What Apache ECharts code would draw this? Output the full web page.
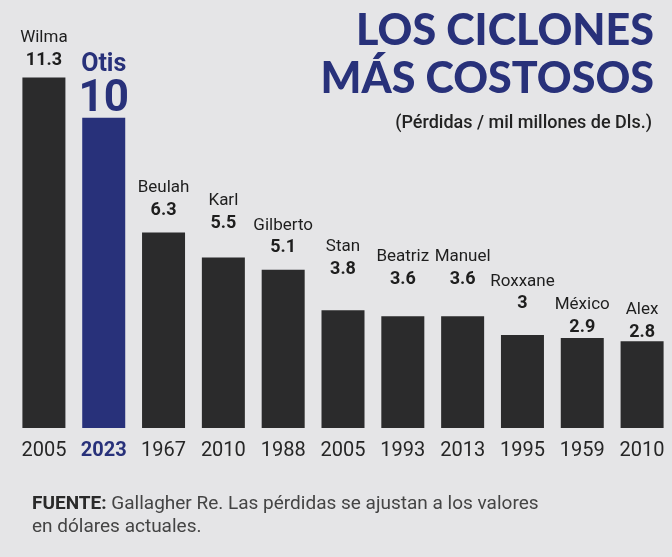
<!DOCTYPE html>
<html><head><meta charset="utf-8">
<script src="https://cdn.jsdelivr.net/npm/echarts@6/dist/echarts.min.js"></script>
<style>html,body{margin:0;padding:0;background:#e5e5e7;}#c{width:672px;height:557px;}</style>
</head><body><div id="c"></div>
<script>
const names = ['Wilma','Otis','Beulah','Karl','Gilberto','Stan','Beatriz','Manuel','Roxxane','México','Alex'];
const years = ['2005','2023','1967','2010','1988','2005','1993','2013','1995','1959','2010'];
const losses = [11.3,10,6.3,5.5,5.1,3.8,3.6,3.6,3,2.9,2.8];
const highlight = 'Otis';
// label gap above each bar (layout, not data)
const labelGap = [6,1,11,23,11,30,26,26,20,0,-2];

const FONT = 'Roboto, sans-serif';
const DARK = '#2b2b2c', NAVY = '#28317a';
const chart = echarts.init(document.getElementById('c'));
const data = losses.map((v,i)=>({
  value: v,
  itemStyle: {color: names[i]===highlight ? NAVY : DARK},
  label: {distance: labelGap[i]}
}));
chart.setOption({
  backgroundColor: '#e5e5e7',
  animation: false,
  grid: {left: 14, width: 659, top: 0, bottom: 129, containLabel: false},
  xAxis: {
    type: 'category', data: years,
    axisLine: {show: false}, axisTick: {show: false},
    axisLabel: {
      margin: 13, interval: 0,
      formatter: (v, i) => names[i]===highlight ? '{h|'+v+'}' : '{n|'+v+'}',
      rich: {
        n: {fontFamily: FONT, fontSize: 20, color: '#262626'},
        h: {fontFamily: FONT, fontSize: 20, fontWeight: 'bold', color: NAVY}
      }
    }
  },
  yAxis: {type: 'value', min: 0, max: 13.8, show: false},
  series: [{
    type: 'bar', data: data, barWidth: 43,
    label: {
      show: true, position: 'top',
      formatter: p => names[p.dataIndex]===highlight
        ? '{on|'+names[p.dataIndex]+'}\n{ov|'+p.value+'}'
        : '{n|'+names[p.dataIndex]+'}\n{v|'+p.value+'}',
      rich: {
        n: {fontFamily: FONT, fontSize: 17, color: '#1e1e1e', lineHeight: 23, align: 'center'},
        v: {fontFamily: FONT, fontSize: 18, fontWeight: 'bold', color: '#1e1e1e', lineHeight: 22, align: 'center'},
        on: {fontFamily: FONT, fontSize: 25, fontWeight: 'bold', color: NAVY, lineHeight: 36, align: 'center'},
        ov: {fontFamily: FONT, fontSize: 44, fontWeight: 'bold', color: NAVY, lineHeight: 34, align: 'center'}
      }
    }
  }],
  graphic: [
    {type: 'text', right: 18, top: 10, style: {text: 'LOS CICLONES', font: '900 43px Lato, sans-serif', fill: NAVY}},
    {type: 'text', right: 18, top: 58, style: {text: 'MÁS COSTOSOS', font: '900 43px Lato, sans-serif', fill: NAVY}},
    {type: 'text', right: 20, top: 114, style: {text: '(Pérdidas / mil millones de Dls.)', font: '500 18px ' + FONT, fill: '#222'}},
    {type: 'text', left: 32, top: 493, style: {
      text: '{b|FUENTE:} Gallagher Re. Las pérdidas se ajustan a los valores\nen dólares actuales.',
      rich: {b: {fontFamily: FONT, fontSize: 19, fontWeight: 'bold', fill: '#2a2a2a'}},
      fontFamily: FONT, fontSize: 19, fill: '#444', lineHeight: 23}}
  ]
});
</script></body></html>
